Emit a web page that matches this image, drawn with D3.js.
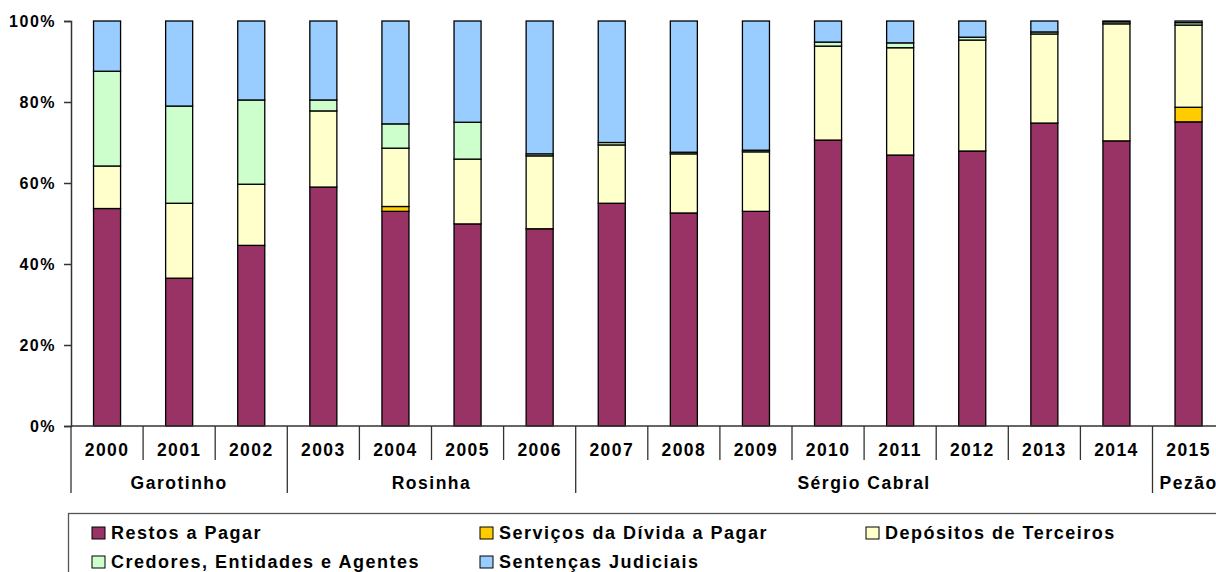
<!DOCTYPE html>
<html>
<head>
<meta charset="utf-8">
<script src="https://cdn.jsdelivr.net/npm/d3@7"></script>
<style>
  body { margin: 0; background: #fff; }
  text { font-family: "Liberation Sans", Arial, sans-serif; font-weight: bold; fill: #000; }
</style>
</head>
<body>
<div id="chart"></div>
<script>
// categories
var years = ["2000","2001","2002","2003","2004","2005","2006","2007","2008","2009","2010","2011","2012","2013","2014","2015"];
var governors = [
  {name: "Garotinho", from: 0, to: 3},
  {name: "Rosinha", from: 3, to: 7},
  {name: "Sérgio Cabral", from: 7, to: 15},
  {name: "Pezão", from: 15, to: 16}
];

// series values (% of total)
var restos     = [53.7, 36.5, 44.6, 59.0, 53.0, 49.9, 48.7, 55.0, 52.6, 53.0, 70.6, 66.9, 67.9, 74.8, 70.4, 75.1];
var servicos   = [0, 0, 0, 0, 1.2, 0, 0, 0, 0, 0, 0, 0, 0, 0, 0, 3.6];
var depositos  = [10.5, 18.5, 15.1, 18.8, 14.4, 16.0, 18.0, 14.4, 14.6, 14.7, 23.2, 26.5, 27.4, 22.0, 28.9, 20.3];
var credores   = [23.4, 24.0, 20.8, 2.7, 6.0, 9.1, 0.5, 0.6, 0.4, 0.4, 1.0, 1.2, 0.7, 0.5, 0.5, 0.6];
var sentencas  = [12.4, 21.0, 19.5, 19.5, 25.4, 25.0, 32.8, 30.0, 32.4, 31.9, 5.2, 5.4, 4.0, 2.7, 0.2, 0.4];

var seriesNames = ["Restos a Pagar", "Serviços da Dívida a Pagar", "Depósitos de Terceiros", "Credores, Entidades e Agentes", "Sentenças Judiciais"];
var seriesValues = [restos, servicos, depositos, credores, sentencas];
var colors = ["#993366", "#FFCC00", "#FFFFCC", "#CCFFCC", "#99CCFF"];
var yTicks = [0, 20, 40, 60, 80, 100];

var svgWidth = 1216, svgHeight = 572;
var margin = {top: 21, left: 71, bottom: 146};
var plotBottom = svgHeight - margin.bottom; // 426

var svg = d3.select("#chart").append("svg")
  .attr("width", svgWidth)
  .attr("height", svgHeight);

// build table for stack
var table = years.map(function(y, i) {
  var row = {year: y};
  seriesNames.forEach(function(s, j) { row[s] = seriesValues[j][i]; });
  return row;
});
var stacked = d3.stack().keys(seriesNames)(table);

var step = 72.1;
var xScale = d3.scaleBand()
  .domain(years)
  .range([margin.left, margin.left + step * years.length])
  .paddingInner(0.625)
  .paddingOuter(0.3125);

var yScale = d3.scaleLinear()
  .domain([0, 100])
  .range([plotBottom, margin.top]);

// bars
svg.append("g").selectAll("g")
  .data(stacked)
  .enter()
  .append("g")
  .attr("fill", (d, i) => colors[i])
  .selectAll("rect")
  .data(d => d.filter(p => p[1] - p[0] > 0))
  .enter()
  .append("rect")
  .attr("x", d => xScale(d.data.year))
  .attr("y", d => yScale(d[1]))
  .attr("width", xScale.bandwidth())
  .attr("height", d => yScale(d[0]) - yScale(d[1]))
  .attr("stroke", "#000")
  .attr("stroke-width", 1.3);

// y axis
var yAxis = d3.axisLeft(yScale)
  .tickValues(yTicks)
  .tickFormat(d => d + "%")
  .tickSize(7)
  .tickPadding(8);

var yG = svg.append("g")
  .attr("transform", `translate(${margin.left},0)`)
  .call(yAxis);
yG.select(".domain").attr("stroke", "#333").attr("stroke-width", 1.5);
yG.selectAll(".tick line").attr("stroke", "#333").attr("stroke-width", 1.5);
yG.selectAll(".tick text")
  .attr("font-size", 16)
  .attr("font-family", "Liberation Sans, Arial, sans-serif")
  .attr("font-weight", "bold")
  .attr("letter-spacing", 1.5)
  .attr("fill", "#000");

// x axis line
svg.append("line")
  .attr("x1", margin.left).attr("x2", svgWidth)
  .attr("y1", plotBottom).attr("y2", plotBottom)
  .attr("stroke", "#333").attr("stroke-width", 1.5);

// year separators and labels
var yearSep = d3.range(years.length + 1).map(i => margin.left + step * i);
var groupStarts = governors.map(g => g.from).concat([years.length]);

svg.append("g").selectAll("line")
  .data(yearSep)
  .enter()
  .append("line")
  .attr("x1", d => d).attr("x2", d => d)
  .attr("y1", plotBottom)
  .attr("y2", (d, i) => groupStarts.indexOf(i) >= 0 ? plotBottom + 67 : plotBottom + 34)
  .attr("stroke", "#333").attr("stroke-width", 1.3);

svg.append("g").selectAll("text")
  .data(years)
  .enter()
  .append("text")
  .attr("x", d => xScale(d) + xScale.bandwidth() / 2)
  .attr("y", plotBottom + 30)
  .attr("text-anchor", "middle")
  .attr("font-size", 17.5)
  .attr("letter-spacing", 1.4)
  .text(d => d);

svg.append("g").selectAll("text")
  .data(governors)
  .enter()
  .append("text")
  .attr("x", d => margin.left + step * (d.from + d.to) / 2)
  .attr("y", plotBottom + 63)
  .attr("text-anchor", "middle")
  .attr("font-size", 17.5)
  .attr("letter-spacing", 1.5)
  .text(d => d.name);

// legend
var legend = svg.append("g");
legend.append("rect")
  .attr("x", 68.5).attr("y", 513.5)
  .attr("width", 1200).attr("height", 80)
  .attr("fill", "none")
  .attr("stroke", "#555").attr("stroke-width", 1.3);

var legendPos = [[92, 533], [480, 533], [866, 533], [92, 562], [480, 562]];
var items = legend.selectAll("g.item")
  .data(seriesNames)
  .enter()
  .append("g")
  .attr("class", "item")
  .attr("transform", (d, i) => `translate(${legendPos[i][0]},${legendPos[i][1]})`);

items.append("rect")
  .attr("x", 0).attr("y", -6)
  .attr("width", 13).attr("height", 12)
  .attr("fill", (d, i) => colors[i])
  .attr("stroke", "#000").attr("stroke-width", 1);

items.append("text")
  .attr("x", 19).attr("y", 6)
  .attr("font-size", 18)
  .attr("letter-spacing", 1.5)
  .text(d => d);
</script>
</body>
</html>
